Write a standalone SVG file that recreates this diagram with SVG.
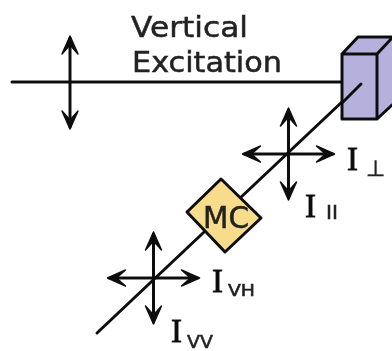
<svg xmlns="http://www.w3.org/2000/svg" width="392" height="351" viewBox="0 0 392 351">
<style>
.l{fill:none;stroke:#111;stroke-width:3;stroke-linecap:round;stroke-linejoin:round}
.a{fill:none;stroke:#111;stroke-width:3;stroke-linecap:round}
.h{fill:#111;stroke:#111;stroke-width:1.5;stroke-linejoin:round}
.t{font-family:"DejaVu Sans",sans-serif;fill:#222;stroke:#222;stroke-width:.5}
.i{font-family:"Liberation Serif",serif;font-size:33px;fill:#111;stroke:#111;stroke-width:.8}
.s{font-family:"DejaVu Sans",sans-serif;fill:#222;stroke:#222;stroke-width:.5}
</style>
<defs>
<filter id="soft" x="-5%" y="-5%" width="110%" height="110%"><feGaussianBlur stdDeviation="0.5"/></filter>
<path id="head" class="h" d="M0 0L8 18L0 9L-8 18Z"/>
<g id="cross">
<path class="a" d="M0-44V44M-44 0H44"/>
<use href="#head" transform="translate(0 -46)"/>
<use href="#head" transform="translate(0 46) rotate(180)"/>
<use href="#head" transform="translate(-46 0) rotate(-90)"/>
<use href="#head" transform="translate(46 0) rotate(90)"/>
</g>
</defs>
<rect width="392" height="351" fill="#fff"/>
<g filter="url(#soft)">
<g id="connectors">
<path class="l" d="M12 82H342"/>
<path class="l" d="M97 333L361 84"/>
<path class="a" d="M70 38V127"/>
<use href="#head" transform="translate(70 36)"/>
<use href="#head" transform="translate(70 129) rotate(180)"/>
<use href="#cross" x="288.500" y="154"/>
<use href="#cross" x="153.500" y="278"/>
</g>
<g id="cube">
<path d="M342 54L358 37H392V105L377 119H342Z" fill="#b5b0dc"/>
<path d="M342 54L358 37H392M342 54H377L392 38M377 54V119M342 54V119H377L392 105" class="l"/>
<path class="l" d="M342 103L361 84"/>
</g>
<g id="mc">
<path d="M187 212L221 179L261 218L225 252Z" fill="#f7dd8b" stroke="#111" stroke-width="3" stroke-linejoin="round"/>
<text class="t" x="203" y="228" font-size="30" textLength="46" lengthAdjust="spacingAndGlyphs">MC</text>
</g>
<g id="excitation-label">
<text class="t" x="131" y="37" font-size="29" textLength="117" lengthAdjust="spacingAndGlyphs">Vertical</text>
<text class="t" x="132" y="72" font-size="29" textLength="150" lengthAdjust="spacingAndGlyphs">Excitation</text>
</g>
<g id="labels">
<text class="i" x="347" y="170">I</text><text class="s" x="366" y="176" font-size="22">⊥</text>
<text class="i" x="305" y="217">I</text><text class="s" x="326" y="219" font-size="20" textLength="12" lengthAdjust="spacingAndGlyphs">II</text>
<text class="i" x="212" y="292">I</text><text class="s" x="228" y="296" font-size="15" textLength="27" lengthAdjust="spacingAndGlyphs">VH</text>
<text class="i" x="171" y="342">I</text><text class="s" x="187" y="348" font-size="17" textLength="26" lengthAdjust="spacingAndGlyphs">VV</text>
</g>
</g>
</svg>
